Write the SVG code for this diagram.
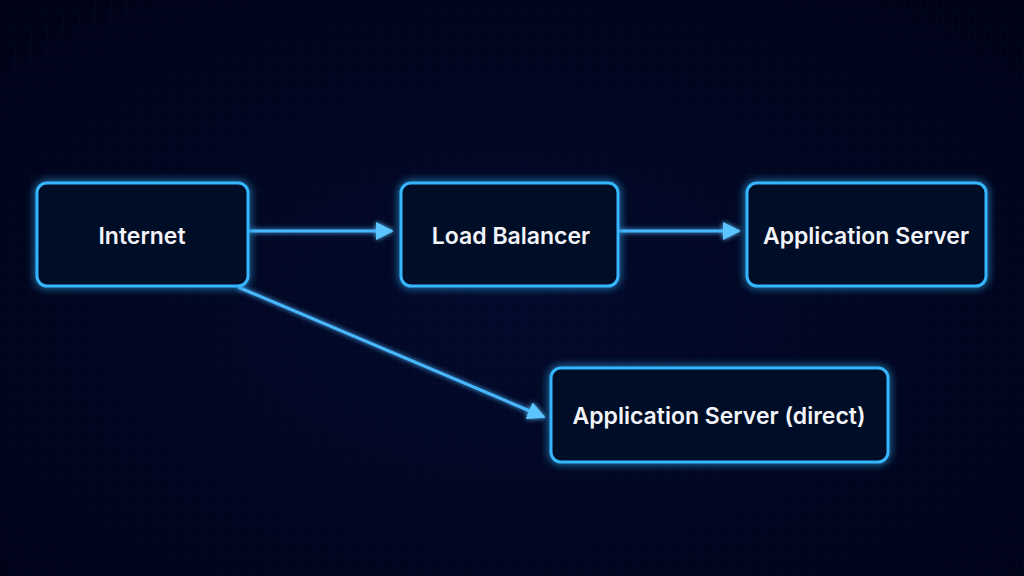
<svg xmlns="http://www.w3.org/2000/svg" width="1024" height="576" viewBox="0 0 1024 576">
  <defs>
    <radialGradient id="bg" cx="50%" cy="55%" r="75%">
      <stop offset="0" stop-color="#020a2c"/>
      <stop offset="1" stop-color="#000216"/>
    </radialGradient>
    <pattern id="grid" width="16" height="16" patternUnits="userSpaceOnUse">
      <path d="M16 0V16H0" fill="none" stroke="#0a1640" stroke-width="1" opacity="0.3"/>
    </pattern>
    <filter id="glow" x="-20%" y="-30%" width="140%" height="160%">
      <feGaussianBlur in="SourceGraphic" stdDeviation="4" result="b"/>
      <feMerge><feMergeNode in="b"/><feMergeNode in="SourceGraphic"/></feMerge>
    </filter>
    <filter id="lglow" filterUnits="userSpaceOnUse" x="0" y="0" width="1024" height="576">
      <feGaussianBlur in="SourceGraphic" stdDeviation="2.5" result="b"/>
      <feMerge><feMergeNode in="b"/><feMergeNode in="SourceGraphic"/></feMerge>
    </filter>
    <marker id="arrow" viewBox="0 0 10 10" refX="9" refY="5" markerWidth="6" markerHeight="6" markerUnits="strokeWidth" orient="auto">
      <path d="M0 0L10 5L0 10Z" fill="#5cc4ff"/>
    </marker>
  </defs>
  <style>
    .box { fill: #020828; stroke: #35b6ff; stroke-width: 3; filter: url(#glow); }
    .lbl { fill: #f2f4fa; font-family: Inter, "Liberation Sans", sans-serif; font-weight: 600; font-size: 23px; text-anchor: middle; dominant-baseline: central; }
    .conn { stroke: #4ab8ff; stroke-width: 3; fill: none; filter: url(#lglow); }
  </style>
  <rect width="1024" height="576" fill="url(#bg)"/>
  <rect width="1024" height="576" fill="url(#grid)"/>
  <g id="connectors">
    <line class="conn" x1="249" y1="231" x2="392" y2="231" marker-end="url(#arrow)"/>
    <line class="conn" x1="619" y1="231" x2="739" y2="231" marker-end="url(#arrow)"/>
    <line class="conn" x1="238" y1="287" x2="544" y2="417" marker-end="url(#arrow)"/>
  </g>
  <g id="internet">
    <rect class="box" x="37" y="183" width="211" height="103" rx="10"/>
    <text class="lbl" x="142" y="236">Internet</text>
  </g>
  <g id="load-balancer">
    <rect class="box" x="401" y="183" width="217" height="103" rx="10"/>
    <text class="lbl" x="511" y="236">Load Balancer</text>
  </g>
  <g id="app-server">
    <rect class="box" x="747" y="183" width="239" height="103" rx="10"/>
    <text class="lbl" x="866" y="236">Application Server</text>
  </g>
  <g id="app-server-direct">
    <rect class="box" x="551" y="368" width="337" height="94" rx="10"/>
    <text class="lbl" x="719" y="416">Application Server (direct)</text>
  </g>
</svg>
